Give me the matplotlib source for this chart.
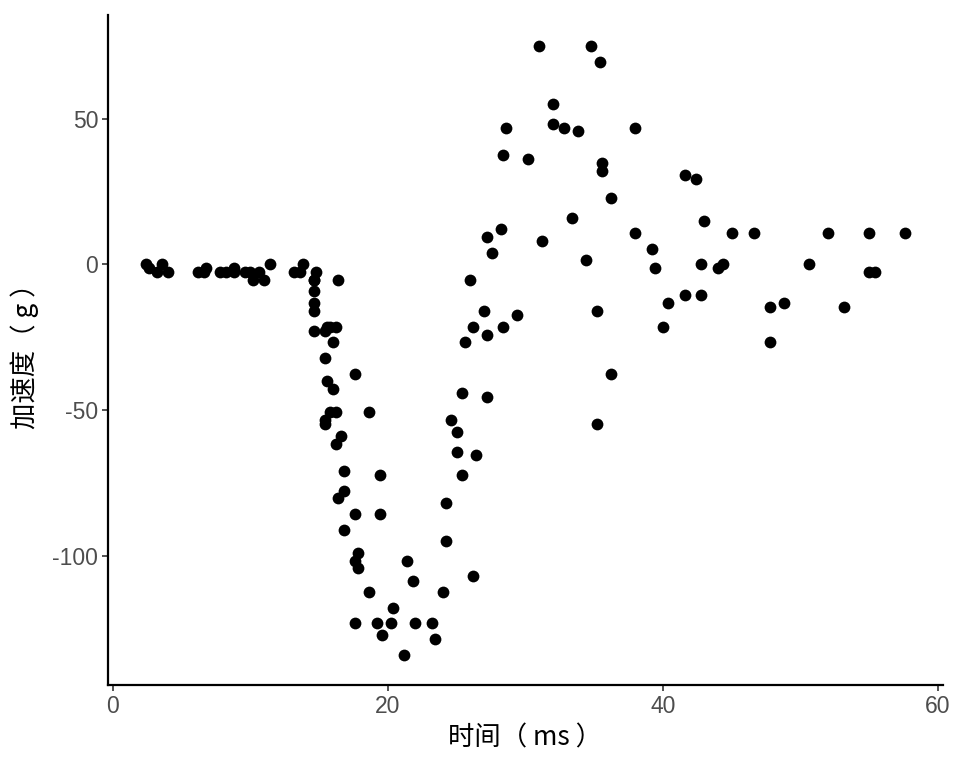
import numpy as np
import matplotlib
matplotlib.use("Agg")
from matplotlib import pyplot as plt

plt.rcParams['font.family'] = ['Liberation Sans', 'Noto Sans CJK SC', 'DejaVu Sans']

# mcycle: tiempo (ms) y aceleración (g)
times = [2.4, 2.6, 3.2, 3.6, 4.0, 6.2, 6.6, 6.8, 7.8, 8.2,
         8.8, 8.8, 9.6, 10.0, 10.2, 10.6, 11.0, 11.4, 13.2, 13.6,
         13.8, 14.6, 14.6, 14.6, 14.6, 14.6, 14.6, 14.8, 15.4, 15.4,
         15.4, 15.4, 15.6, 15.6, 15.8, 15.8, 16.0, 16.0, 16.2, 16.2,
         16.2, 16.4, 16.4, 16.6, 16.8, 16.8, 16.8, 17.6, 17.6, 17.6,
         17.6, 17.8, 17.8, 18.6, 18.6, 19.2, 19.4, 19.4, 19.6, 20.2,
         20.4, 21.2, 21.4, 21.8, 22.0, 23.2, 23.4, 24.0, 24.2, 24.2,
         24.6, 25.0, 25.0, 25.4, 25.4, 25.6, 26.0, 26.2, 26.2, 26.4,
         27.0, 27.2, 27.2, 27.2, 27.6, 28.2, 28.4, 28.4, 28.6, 29.4,
         30.2, 31.0, 31.2, 32.0, 32.0, 32.8, 33.4, 33.8, 34.4, 34.8,
         35.2, 35.2, 35.4, 35.6, 35.6, 36.2, 36.2, 38.0, 38.0, 39.2,
         39.4, 40.0, 40.4, 41.6, 41.6, 42.4, 42.8, 42.8, 43.0, 44.0,
         44.4, 45.0, 46.6, 47.8, 47.8, 48.8, 50.6, 52.0, 53.2, 55.0,
         55.0, 55.4, 57.6]
accel = [0.0, -1.3, -2.7, 0.0, -2.7, -2.7, -2.7, -1.3, -2.7, -2.7,
         -1.3, -2.7, -2.7, -2.7, -5.4, -2.7, -5.4, 0.0, -2.7, -2.7,
         0.0, -13.3, -5.4, -5.4, -9.3, -16.0, -22.8, -2.7, -22.8, -32.1,
         -53.5, -54.9, -40.2, -21.5, -21.5, -50.8, -42.9, -26.8, -21.5, -50.8,
         -61.7, -5.4, -80.4, -59.0, -71.0, -91.1, -77.7, -37.5, -85.6, -123.1,
         -101.9, -99.1, -104.4, -112.5, -50.8, -123.1, -85.6, -72.3, -127.2, -123.1,
         -117.9, -134.0, -101.9, -108.7, -123.1, -123.1, -128.5, -112.5, -95.1, -81.8,
         -53.5, -64.4, -57.6, -72.3, -44.3, -26.8, -5.4, -107.1, -21.5, -65.6,
         -16.0, -45.6, -24.2, 9.5, 4.0, 12.0, -21.5, 37.5, 46.9, -17.4,
         36.2, 75.0, 8.1, 54.9, 48.2, 46.9, 16.0, 45.6, 1.3, 75.0,
         -16.0, -54.9, 69.6, 34.8, 32.1, -37.5, 22.8, 46.9, 10.7, 5.4,
         -1.3, -21.5, -13.3, 30.8, -10.7, 29.4, 0.0, -10.7, 14.7, -1.3,
         0.0, 10.7, 10.7, -26.8, -14.7, -13.3, 0.0, 10.7, -14.7, -2.7,
         10.7, -2.7, 10.7]

xticks = [0, 20, 40, 60]
yticks = [-100, -50, 0, 50]

fig = plt.figure(figsize=(9.6, 7.68), dpi=100)
ax = fig.add_axes([0.1125, 0.108, 0.8695, 0.872])

ax.scatter(times, accel, s=72, color='black', linewidths=0, zorder=3)

# expansión tipo ggplot (5%)
xr = max(times) - min(times)
yr = max(accel) - min(accel)
ax.set_xlim(min(times) - 0.05 * xr, max(times) + 0.05 * xr)
ax.set_ylim(min(accel) - 0.05 * yr, max(accel) + 0.05 * yr)

ax.set_xticks(xticks)
ax.set_yticks(yticks)
ax.set_xticklabels([str(t) for t in xticks])
ax.set_yticklabels([str(t) for t in yticks])

for s in ['top', 'right']:
    ax.spines[s].set_visible(False)
for s in ['left', 'bottom']:
    ax.spines[s].set_linewidth(1.6)
    ax.spines[s].set_color('black')

ax.tick_params(axis='both', length=4, width=1.2, color='#333333',
               labelcolor='#4D4D4D', labelsize=16.5, pad=3)

cjk = ['Noto Sans CJK SC', 'DejaVu Sans']
ax.set_xlabel('时间（ ms ）', fontsize=19, family=cjk, labelpad=5)
ax.set_ylabel('加速度（ g ）', fontsize=19, family=cjk, labelpad=10)

plt.savefig('out.png', dpi=100)
